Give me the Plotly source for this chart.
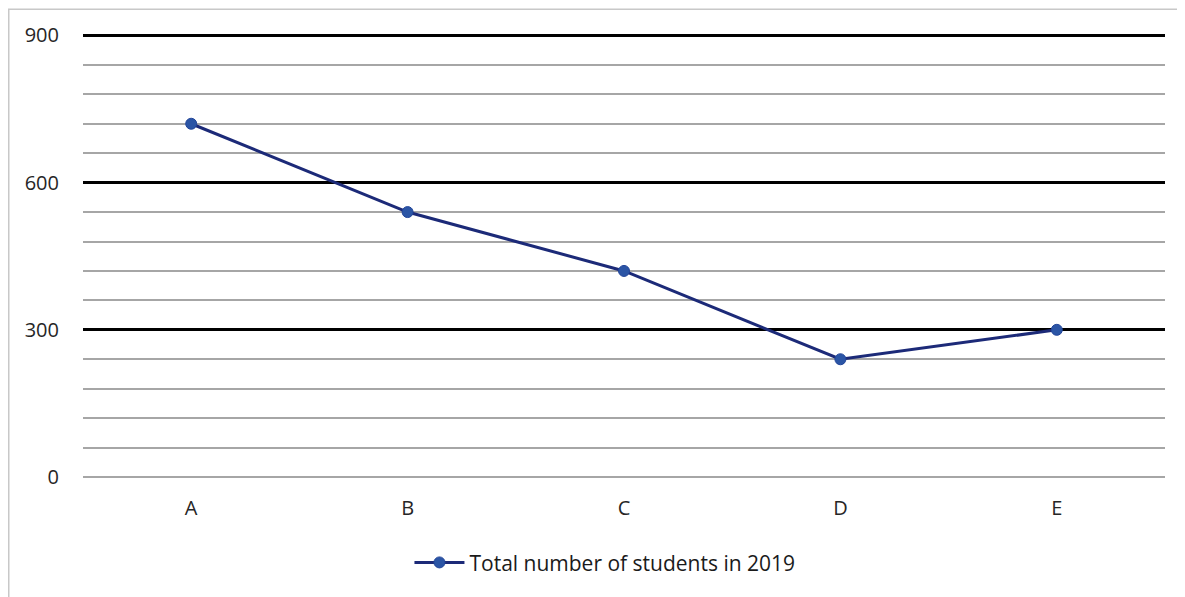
import plotly.graph_objects as go

categories = ["A", "B", "C", "D", "E"]
students_2019 = [720, 540, 420, 240, 300]
y_ticks = [0, 300, 600, 900]
series_name = "Total number of students in 2019"

W, H = 1185, 597
FONT = "Open Sans"
L, R, T, B = 75, 28, 24.5, 128
PW, PH = W - L - R, H - T - B

fig = go.Figure()
fig.add_trace(go.Scatter(
    x=categories, y=students_2019, name=series_name,
    mode="lines+markers",
    line=dict(color="#1c2a78", width=3),
    marker=dict(color="#2b55a5", size=11, line=dict(color="#23469a", width=1)),
    showlegend=True,
))

fig.update_layout(
    width=W, height=H,
    margin=dict(l=L, r=R, t=T, b=B, pad=0),
    paper_bgcolor="white", plot_bgcolor="white",
    font=dict(family=FONT, size=20, color="#262626"),
    showlegend=True,
    legend=dict(orientation="h", x=0.4824, xanchor="center", y=-0.147, yanchor="top",
                font=dict(family=FONT, size=21, color="#1a1a1a"), itemwidth=50),
    xaxis=dict(range=[-0.5, 4.5], showgrid=False, zeroline=False, showline=False,
               ticks="outside", ticklen=13, tickcolor="rgba(0,0,0,0)",
               tickfont=dict(family=FONT, size=20, color="#262626")),
    yaxis=dict(range=[0, 905], tickvals=y_ticks, ticktext=[str(v) for v in y_ticks],
               showgrid=True, gridcolor="black", gridwidth=3,
               zeroline=True, zerolinecolor="#a6a6a6", zerolinewidth=1.5,
               showline=False,
               ticks="outside", ticklen=19, tickcolor="rgba(0,0,0,0)",
               tickfont=dict(family=FONT, size=20, color="#262626"),
               minor=dict(dtick=60, showgrid=True, gridcolor="#a6a6a6", gridwidth=1.5)),
    shapes=[dict(type="rect", xref="paper", yref="paper",
                 x0=(0.75 - L) / PW, x1=1.2, y0=-0.5, y1=1 + (T - 0.75) / PH,
                 line=dict(color="#c8c8c8", width=1.5), fillcolor="rgba(0,0,0,0)",
                 layer="below")],
)

fig.write_html("out.html")
